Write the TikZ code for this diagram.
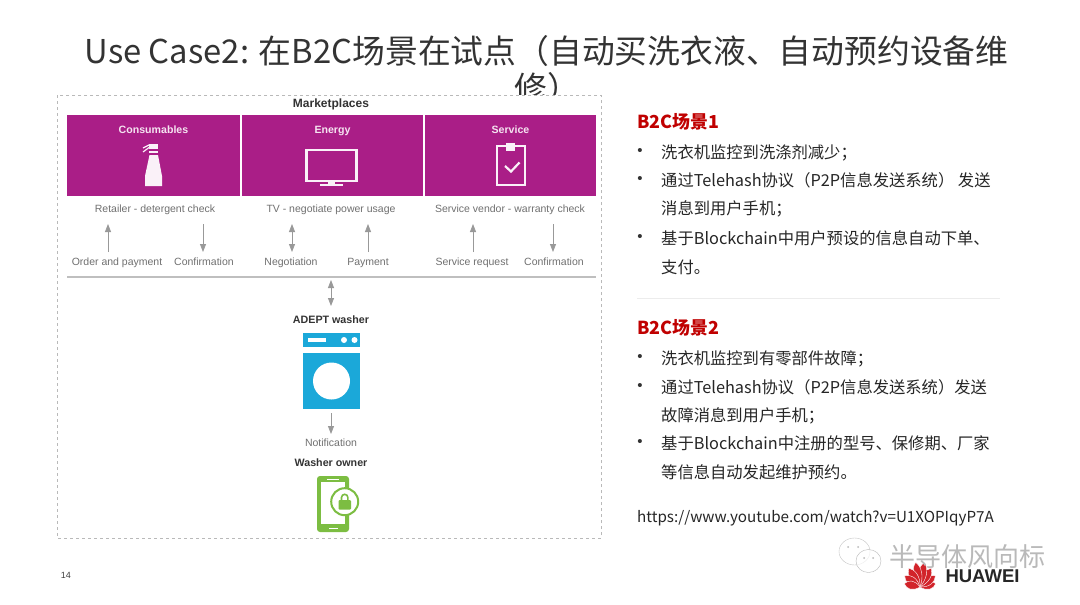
\documentclass[tikz,border=0pt]{standalone}
\usepackage{fontspec}
\setmainfont{Liberation Sans}
\newfontfamily\cjk{Noto Sans CJK SC}
\usetikzlibrary{arrows.meta, positioning, calc}
\definecolor{panelpurple}{HTML}{AA1E87}
\definecolor{washerblue}{HTML}{1BA8D9}
\definecolor{phonegreen}{HTML}{7CBD42}
\definecolor{headred}{HTML}{C00000}
\definecolor{labelgray}{HTML}{707070}
\definecolor{logored}{HTML}{D2232A}
\tikzset{
    flow/.style={draw=gray!80, line width=0.8pt, -{Triangle[length=8pt,width=6pt]}},
    flowboth/.style={flow, {Triangle[length=8pt,width=6pt]}-{Triangle[length=8pt,width=6pt]}},
    market/.style={fill=panelpurple, draw=none},
    icon/.style={white!94!panelpurple},
    headlabel/.style={font=\fontsize{10.6}{12}\selectfont\bfseries, text=white!88!panelpurple, inner sep=0pt, text height=8pt, text depth=2pt},
    graylabel/.style={font=\fontsize{10.5}{12}\selectfont, text=labelgray, inner sep=0pt, text height=8pt, text depth=2pt},
    boldlabel/.style={font=\fontsize{10.7}{12}\selectfont\bfseries, text=black!80, inner sep=0pt, text height=8pt, text depth=2pt},
    bodyline/.style={font=\fontsize{16.3}{18}\selectfont\cjk, text=black!85, anchor=west, inner sep=0pt, text height=13pt, text depth=3pt},
    bodyhead/.style={font=\fontsize{17.9}{20}\selectfont\cjk\bfseries, text=headred, anchor=west, inner sep=0pt, text height=14pt, text depth=3pt},
    dotmark/.style={font=\fontsize{15}{16}\selectfont, text=black!80, inner sep=0pt}
}
\begin{document}
\begin{tikzpicture}[x=1pt, y=-1pt]
    \useasboundingbox (0,0) rectangle (1080,605);
    \fill[white] (0,0) rectangle (1080,605);

    \node[font=\fontsize{32.8}{36}\selectfont\cjk, text=black!80, inner sep=0pt] (title1) at (546.5,51) {Use Case2: 在B2C场景在试点（自动买洗衣液、自动预约设备维};
    \node[font=\fontsize{32.8}{36}\selectfont\cjk, text=black!80, inner sep=0pt] (title2) at (547,88) {修）};

    \draw[gray!55, dashed, fill=white] (57,95) rectangle (601,538);
    \node[boldlabel, font=\fontsize{12}{13}\selectfont\bfseries] (marketplaces) at (331,104) {Marketplaces};

    \foreach \a/\b/\n/\t in {67/240/cons/Consumables, 242/423/ener/Energy, 425/596/serv/Service} {
        \fill[market] (\a,115) rectangle (\b,196);
        \node[headlabel] (\n) at ({(\a+\b)/2},130) {\t};
    }

    \fill[icon] (149,143.5) rectangle (158,149);
    \fill[icon] (149,151) rectangle (158,153);
    \fill[icon] (149.5,155) -- (158,155) -- (162,176) -- (162,186) -- (145,186) -- (145,176) -- cycle;
    \draw[icon, line width=1.2pt] (149,145) -- (143,148) (149,147.5) -- (143,152);

    \draw[icon, line width=2.4pt] (306.5,150) rectangle (356.5,181);
    \fill[icon] (328,182) rectangle (335,184);
    \fill[icon] (320,184) rectangle (343,186);

    \draw[icon, line width=2.4pt] (506,146) -- (497.2,146) -- (497.2,185) -- (524.8,185) -- (524.8,146) -- (515,146);
    \fill[icon] (506,143) rectangle (515,151);
    \draw[icon, line width=2.2pt] (505,166) -- (511,171.5) -- (519.5,162.5);

    \foreach \x/\n/\t in {155/ret/Retailer - detergent check, 331/tv/TV - negotiate power usage, 510/ven/Service vendor - warranty check} {
        \node[graylabel] (\n) at (\x,209.5) {\t};
    }
    \foreach \x/\n/\t in {117/ordr/Order and payment, 204/cona/Confirmation, 291/nego/Negotiation, 368/pay/Payment, 472/req/Service request, 554/conb/Confirmation} {
        \node[graylabel] (\n) at (\x,262.5) {\t};
    }

    \foreach \x/\n in {108/a, 368/d, 473/e} {
        \coordinate (\n low) at (\x,252);
        \coordinate (\n top) at (\x,224);
        \draw[flow] (\n low) -- (\n top);
    }
    \foreach \x/\n in {203/b, 553/f} {
        \coordinate (\n low) at (\x,252);
        \coordinate (\n top) at (\x,224);
        \draw[flow] (\n top) -- (\n low);
    }
    \coordinate (c low) at (292,252);
    \coordinate (c top) at (292,224);
    \draw[flowboth] (c top) -- (c low);

    \coordinate (bar left) at (67,277);
    \coordinate (bar right) at (596,277);
    \draw[gray!50, line width=1.8pt] (bar left) -- (bar right);

    \coordinate (bar mid) at (331,280);
    \coordinate (washer top) at (331,306);
    \draw[flowboth] (bar mid) -- (washer top);

    \node[boldlabel] (adept) at (331,320) {ADEPT washer};

    \fill[washerblue] (303,333) rectangle (360,347);
    \fill[white] (308,338) rectangle (326,342);
    \fill[white] (344,340) circle (3pt) (354.5,340) circle (3pt);
    \fill[washerblue] (303,353) rectangle (360,409);
    \fill[white] (331.5,381) circle (18.5pt);

    \coordinate (washer low) at (331,413);
    \coordinate (note top) at (331,434);
    \draw[flow] (washer low) -- (note top);

    \node[graylabel] (notification) at (331,443) {Notification};
    \node[boldlabel] (owner) at (331,463) {Washer owner};

    \fill[phonegreen, rounded corners=3pt] (317,476) rectangle (349,532);
    \fill[white] (321,482) rectangle (345,524);
    \fill[white] (327,478.5) rectangle (339,479.8);
    \fill[white] (329,527.5) rectangle (338,529);
    \draw[phonegreen, fill=white, line width=2pt] (344.7,501.7) circle (13.5pt);
    \fill[phonegreen, rounded corners=1pt] (338.5,500) rectangle (351,509.5);
    \draw[phonegreen, line width=1.6pt] (341.5,500) -- (341.5,497.5) arc[start angle=180, end angle=360, x radius=3.2pt, y radius=-3.2pt] -- (347.9,500);

    \node[bodyhead] (head1) at (637,123) {B2C场景1};
    \foreach \y/\n/\t in {153/p1/洗衣机监控到洗涤剂减少；, 181/p2/通过Telehash协议（P2P信息发送系统） 发送, 209/p3/消息到用户手机；, 239/p4/基于Blockchain中用户预设的信息自动下单、, 268/p5/支付。} {
        \node[bodyline] (\n) at (661,\y) {\t};
    }
    \foreach \y/\n in {152/m1, 180/m2, 238/m4} {
        \node[dotmark] (\n) at (640,\y) {•};
    }

    \coordinate (rule left) at (637,298);
    \coordinate (rule right) at (1000,298);
    \draw[gray!15] (rule left) -- (rule right);

    \node[bodyhead] (head2) at (637,329) {B2C场景2};
    \foreach \y/\n/\t in {359/q1/洗衣机监控到有零部件故障；, 388/q2/通过Telehash协议（P2P信息发送系统）发送, 416/q3/故障消息到用户手机；, 444/q4/基于Blockchain中注册的型号、保修期、厂家, 473/q5/等信息自动发起维护预约。} {
        \node[bodyline] (\n) at (661,\y) {\t};
    }
    \foreach \y/\n in {358/r1, 387/r2, 443/r4} {
        \node[dotmark] (\n) at (640,\y) {•};
    }
    \node[bodyline, font=\fontsize{15.2}{16}\selectfont\cjk] (link) at (637,517) {https://www.youtube.com/watch?v=U1XOPIqyP7A};

    \node[font=\fontsize{9}{10}\selectfont, text=black!75, inner sep=0pt] (pagenum) at (66,575) {14};

    \foreach \a/\l in {-78/16, -54/19, -31/22, -10/25, 10/25, 31/22, 54/19, 78/16} {
        \fill[logored, draw=white, line width=0.4pt, rotate around={\a:(920,587)}] (920,587) .. controls (914,{587-\l*0.4}) and (915,{587-\l*0.8}) .. (920,587-\l) .. controls (925,{587-\l*0.8}) and (926,{587-\l*0.4}) .. (920,587);
    }
    \node[font=\fontsize{18.5}{20}\selectfont\bfseries, text=black!85, inner sep=0pt] (huawei) at (982.5,576) {HUAWEI};

    \draw[gray!45, fill=white, fill opacity=0.7] (854.5,551.5) ellipse (15.5pt and 13.5pt);
    \draw[gray!55, fill=white, fill opacity=0.7] (868.5,561) ellipse (12.5pt and 11.5pt);
    \fill[gray!55] (848,547) circle (1pt) (858,547) circle (1pt) (864,558) circle (1pt) (873,558) circle (1pt);
    \node[font=\fontsize{26}{28}\selectfont\cjk, text=gray!55, inner sep=0pt] (mark) at (967,557) {半导体风向标};
\end{tikzpicture}
\end{document}
